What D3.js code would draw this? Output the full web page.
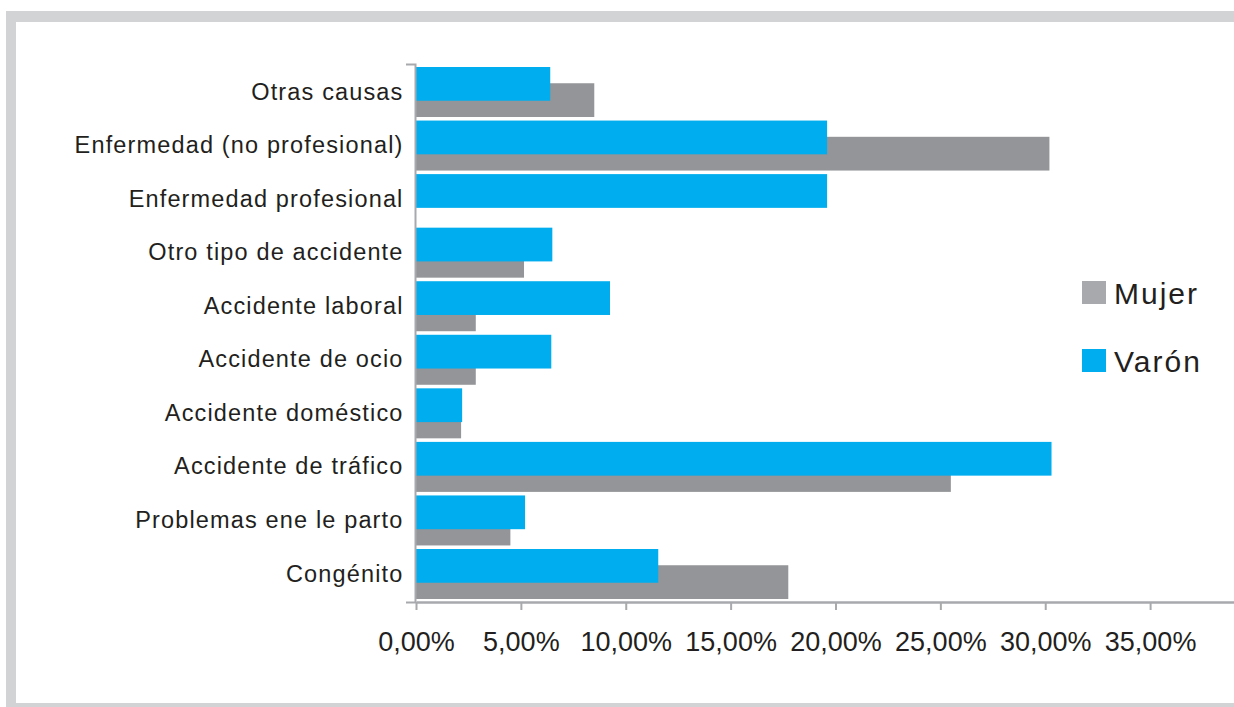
<!DOCTYPE html>
<html>
<head>
<meta charset="utf-8">
<script src="https://cdn.jsdelivr.net/npm/d3@7"></script>
<style>
  html, body { margin: 0; padding: 0; background: #ffffff; }
  svg { display: block; }
</style>
</head>
<body>
<svg id="chart" width="1234" height="707"></svg>
<script>
// ---- Data ----
const categories = [
  "Otras causas",
  "Enfermedad (no profesional)",
  "Enfermedad profesional",
  "Otro tipo de accidente",
  "Accidente laboral",
  "Accidente de ocio",
  "Accidente doméstico",
  "Accidente de tráfico",
  "Problemas ene le parto",
  "Congénito"
];
const varonValues = [6.4, 19.6, 19.6, 6.5, 9.25, 6.45, 2.2, 30.3, 5.2, 11.55];
const mujerValues = [8.5, 30.2, 0, 5.15, 2.85, 2.85, 2.15, 25.5, 4.5, 17.75];
const xTicks = [0, 5, 10, 15, 20, 25, 30, 35];
const seriesNames = ["Mujer", "Varón"];

// ---- Styles ----
const BLUE = "#00adee";
const GREY = "#939598";
const LEGEND_GREY = "#a7a9ac";
const AXIS = "#a7a9ac";
const TEXT = "#231f20";
const FRAME = "#d1d3d4";
const FONT = "'Liberation Sans', Arial, Helvetica, sans-serif";

const svg = d3.select("#chart");

// Frame
svg.append("rect").attr("x", 6).attr("y", 11).attr("width", 1228).attr("height", 696).attr("fill", FRAME);
svg.append("rect").attr("x", 16).attr("y", 22).attr("width", 1218).attr("height", 681).attr("fill", "#ffffff");

// Scales
const x = d3.scaleLinear().domain([0, 39]).range([416, 1234]);
const y = d3.scaleBand().domain(categories).range([64, 602])
  .paddingInner(0.0664).paddingOuter(0.056);
const bw = y.bandwidth();
const barH = bw * 0.675;
const greyOff = bw * 0.325;

// Bars: Mujer (behind), Varón (front)
svg.append("g").selectAll("rect")
  .data(categories.map((c, i) => ({ c, v: mujerValues[i] })))
  .join("rect")
  .attr("x", x(0))
  .attr("y", d => y(d.c) + greyOff)
  .attr("width", d => x(d.v) - x(0))
  .attr("height", barH)
  .attr("fill", GREY);

svg.append("g").selectAll("rect")
  .data(categories.map((c, i) => ({ c, v: varonValues[i] })))
  .join("rect")
  .attr("x", x(0))
  .attr("y", d => y(d.c))
  .attr("width", d => x(d.v) - x(0))
  .attr("height", barH)
  .attr("fill", BLUE);

// Y axis
const yAxis = svg.append("g")
  .attr("transform", "translate(415,0)")
  .call(d3.axisLeft(y).tickSize(0).tickSizeOuter(9).tickPadding(11.5));
yAxis.select(".domain").attr("stroke", AXIS).attr("stroke-width", 2);
yAxis.selectAll("text")
  .attr("fill", TEXT)
  .style("font-family", FONT)
  .style("font-size", "23.5px")
  .style("letter-spacing", "1.15px");

// X axis
const xAxis = svg.append("g")
  .attr("transform", "translate(0,602)")
  .call(d3.axisBottom(x).tickValues(xTicks).tickSize(8).tickSizeOuter(0).tickPadding(22)
    .tickFormat(d => d3.format(".2f")(d).replace(".", ",") + "%"));
xAxis.select(".domain").attr("stroke", AXIS).attr("stroke-width", 2.5);
xAxis.selectAll(".tick line").attr("stroke", AXIS).attr("stroke-width", 2);
xAxis.selectAll("text")
  .attr("fill", TEXT)
  .style("font-family", FONT)
  .style("font-size", "27px");

// Legend
const legendColors = [LEGEND_GREY, BLUE];
const legend = svg.append("g");
seriesNames.forEach((name, i) => {
  const ly = 281 + i * 68;
  legend.append("rect").attr("x", 1082).attr("y", ly).attr("width", 24).attr("height", 23).attr("fill", legendColors[i]);
  legend.append("text")
    .attr("x", 1114).attr("y", ly + 23)
    .attr("fill", TEXT)
    .style("font-family", FONT)
    .style("font-size", "30px")
    .style("letter-spacing", "2px")
    .text(name);
});
</script>
</body>
</html>
